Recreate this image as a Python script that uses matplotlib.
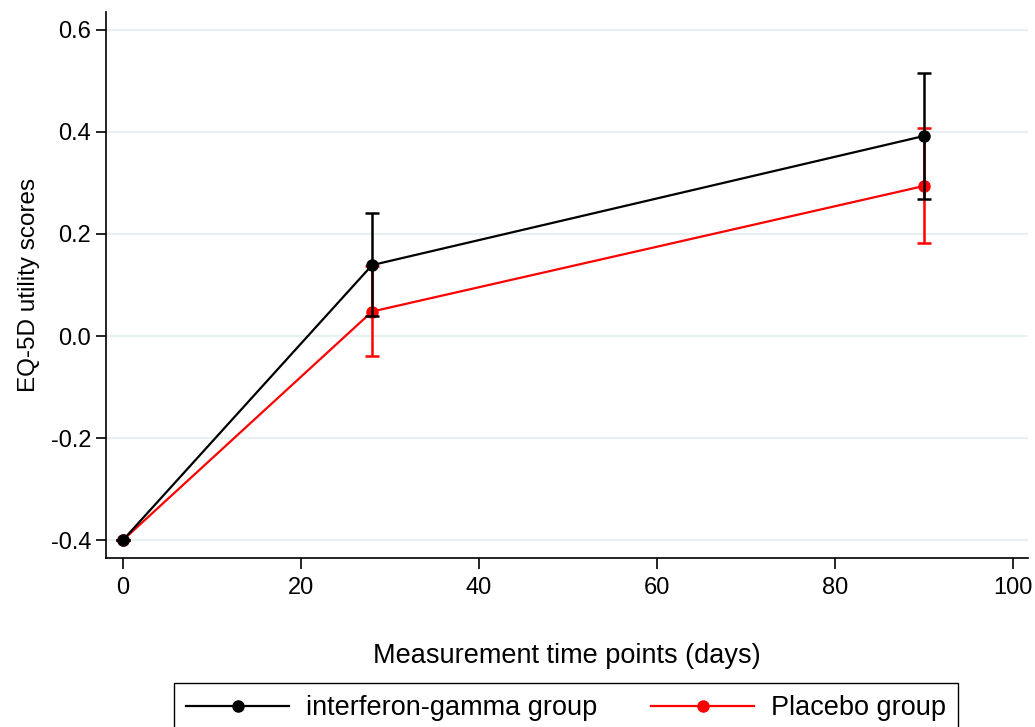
import numpy as np
import matplotlib.pyplot as plt
from matplotlib.lines import Line2D

plt.rcParams['font.family'] = ['Liberation Sans', 'DejaVu Sans']

# time points (days)
days = [0, 28, 90]

# interferon-gamma group: mean and error bar limits
ifn_mean = [-0.40, 0.139, 0.392]
ifn_low = [-0.40, 0.039, 0.269]
ifn_high = [-0.40, 0.241, 0.516]

# placebo group
plc_mean = [-0.40, 0.048, 0.294]
plc_low = [-0.40, -0.039, 0.182]
plc_high = [-0.40, 0.137, 0.408]

yticks = [-0.4, -0.2, 0.0, 0.2, 0.4, 0.6]
ytick_labels = ["-0.4", "-0.2", "0.0", "0.2", "0.4", "0.6"]
xticks = [0, 20, 40, 60, 80, 100]

fig = plt.figure(figsize=(10.35, 7.27), dpi=100)
ax = fig.add_axes([106 / 1035, 169 / 727, 922 / 1035, 546 / 727])

for y in yticks:
    ax.axhline(y, color="#e8f0f2", lw=1.5, zorder=0)

plc_err = [np.array(plc_mean) - np.array(plc_low), np.array(plc_high) - np.array(plc_mean)]
ifn_err = [np.array(ifn_mean) - np.array(ifn_low), np.array(ifn_high) - np.array(ifn_mean)]

ax.errorbar(days, plc_mean, yerr=plc_err, color="red", lw=1.6, marker="o",
            markersize=8, capsize=5, capthick=1.8, elinewidth=1.8, zorder=2)
ax.errorbar(days, ifn_mean, yerr=ifn_err, color="black", lw=1.6, marker="o",
            markersize=8, capsize=5, capthick=1.8, elinewidth=1.8, zorder=3)

ax.set_xlim(-1.9, 101.7)
ax.set_ylim(-0.435, 0.635)
ax.set_xticks(xticks)
ax.set_yticks(yticks)
ax.set_yticklabels(ytick_labels)
ax.tick_params(axis="both", labelsize=17, direction="out", width=1.2)
ax.tick_params(axis="x", length=8, pad=5.5)
ax.tick_params(axis="y", length=7.2, pad=3.5)

for side in ["top", "right"]:
    ax.spines[side].set_visible(False)
for side in ["left", "bottom"]:
    ax.spines[side].set_linewidth(1.2)

ax.set_xlabel("Measurement time points (days)", fontsize=19.5)
ax.xaxis.set_label_coords(0.5, -0.156)
ax.set_ylabel("EQ-5D utility scores", fontsize=17.5)
ax.yaxis.set_label_coords(-0.072, 0.5)

handles = [
    Line2D([], [], color="black", lw=1.6, marker="o", markersize=8),
    Line2D([], [], color="red", lw=1.6, marker="o", markersize=8),
]
labels = ["interferon-gamma group", "Placebo group"]
leg = fig.legend(handles, labels, loc="upper center", ncol=2,
                 bbox_to_anchor=(0.547, 1 - 683 / 727), fontsize=19.5,
                 frameon=True, fancybox=False, edgecolor="black", framealpha=1,
                 handlelength=3.8, handletextpad=0.62, columnspacing=2.0,
                 borderpad=0.45, borderaxespad=0)
leg.get_frame().set_linewidth(1.0)

fig.savefig("out.png", dpi=100)
